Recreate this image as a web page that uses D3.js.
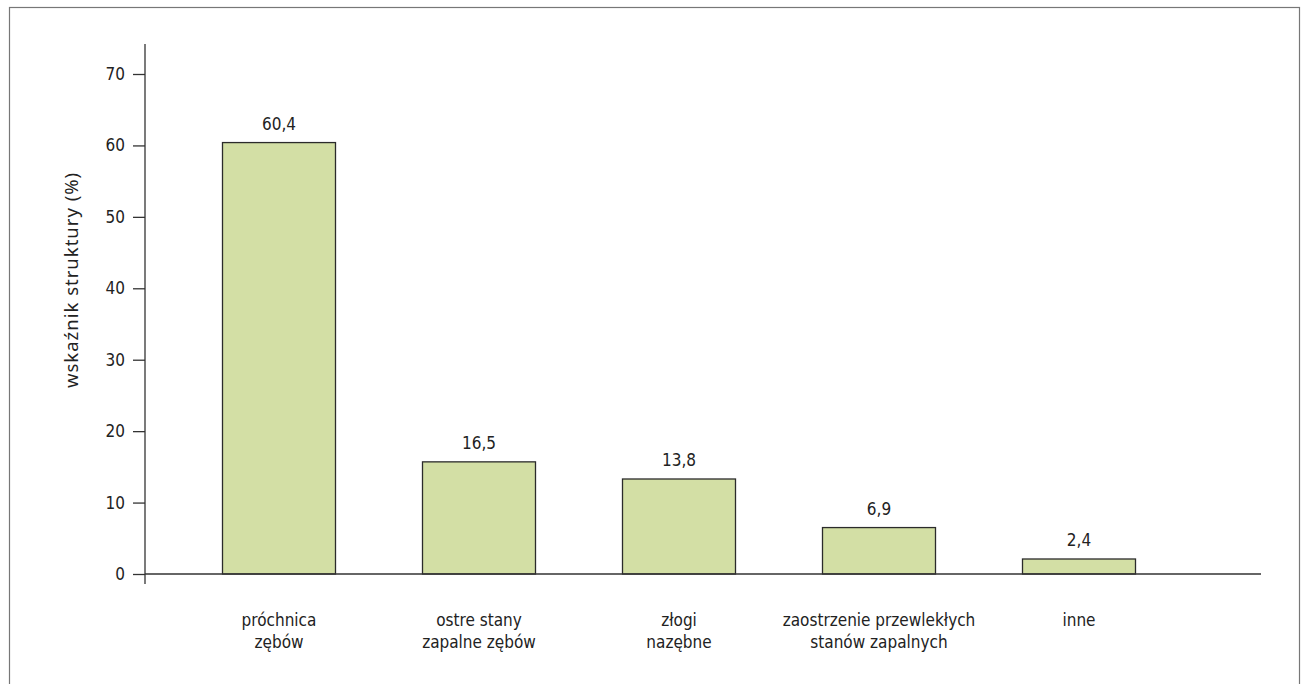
<!DOCTYPE html>
<html>
<head>
<meta charset="utf-8">
<script src="https://cdn.jsdelivr.net/npm/d3@7"></script>
<style>
  body { margin: 0; background: #fff; }
  text { font-family: "Liberation Sans Narrow", "DejaVu Sans Condensed", sans-serif; fill: #222; }
</style>
</head>
<body>
<div id="chart"></div>
<script>
var categories = [
  ["próchnica", "zębów"],
  ["ostre stany", "zapalne zębów"],
  ["złogi", "nazębne"],
  ["zaostrzenie przewlekłych", "stanów zapalnych"],
  ["inne"]
];
// printed values
var valueLabels = ["60,4", "16,5", "13,8", "6,9", "2,4"];
// bar heights as drawn in the picture
var values = [60.4, 15.7, 13.3, 6.5, 2.1];
var yTicks = [0, 10, 20, 30, 40, 50, 60, 70];

var w = 1304, h = 684;

var svg = d3.select("#chart").append("svg")
  .attr("width", w)
  .attr("height", h);

// frame
svg.append("rect")
  .attr("x", 9.5).attr("y", 7.5)
  .attr("width", 1290).attr("height", 700)
  .attr("fill", "none")
  .attr("stroke", "#777")
  .attr("stroke-width", 1.2);

var y = d3.scaleLinear().domain([0, 70]).range([574, 74]);
var x = d3.scaleBand()
  .domain(d3.range(values.length))
  .range([179, 1179])
  .paddingInner(0.435)
  .paddingOuter(0.2175);

// bars
svg.selectAll("rect.bar")
  .data(values)
  .enter().append("rect")
  .attr("class", "bar")
  .attr("x", function(d, i){ return x(i); })
  .attr("y", function(d){ return y(d); })
  .attr("width", x.bandwidth())
  .attr("height", function(d){ return y(0) - y(d); })
  .attr("fill", "#d3dfa5")
  .attr("stroke", "#2b2b2b")
  .attr("stroke-width", 1.3);

// value labels
svg.selectAll("text.val")
  .data(values)
  .enter().append("text")
  .attr("class", "val")
  .attr("x", function(d, i){ return x(i) + x.bandwidth()/2; })
  .attr("y", function(d){ return y(d) - 13; })
  .attr("text-anchor", "middle")
  .style("font-size", "17px")
  .text(function(d, i){ return valueLabels[i]; });

// x axis line
svg.append("line")
  .attr("x1", 145).attr("x2", 1261)
  .attr("y1", y(0)).attr("y2", y(0))
  .attr("stroke", "#333").attr("stroke-width", 1.3);

// y axis
var yAxis = d3.axisLeft(y).tickValues(yTicks).tickSize(12).tickPadding(8);
var ga = svg.append("g")
  .attr("transform", "translate(145,0)")
  .call(yAxis);
ga.select(".domain").remove();
ga.selectAll(".tick line").attr("stroke", "#333").attr("stroke-width", 1.3);
ga.selectAll(".tick text")
  .style("font-size", "17px")
  .style("font-family", "'Liberation Sans Narrow', 'DejaVu Sans Condensed', sans-serif")
  .attr("fill", "#222");
svg.append("line")
  .attr("x1", 145).attr("x2", 145)
  .attr("y1", 44).attr("y2", 584)
  .attr("stroke", "#333").attr("stroke-width", 1.3);

// y axis title
svg.append("text")
  .attr("transform", "translate(78,280) rotate(-90)")
  .attr("text-anchor", "middle")
  .style("font-family", "'Noto Sans', sans-serif")
  .style("font-size", "18.5px")
  .style("letter-spacing", "1px")
  .text("wskaźnik struktury (%)");

// category labels
var cat = svg.selectAll("text.cat")
  .data(categories)
  .enter().append("text")
  .attr("class", "cat")
  .attr("text-anchor", "middle")
  .style("font-size", "17px");
cat.selectAll("tspan")
  .data(function(d, i){ return d.map(function(s){ return {s: s, i: i}; }); })
  .enter().append("tspan")
  .attr("x", function(d){ return x(d.i) + x.bandwidth()/2; })
  .attr("y", function(d, j){ return 626 + j * 22; })
  .text(function(d){ return d.s; });
</script>
</body>
</html>
